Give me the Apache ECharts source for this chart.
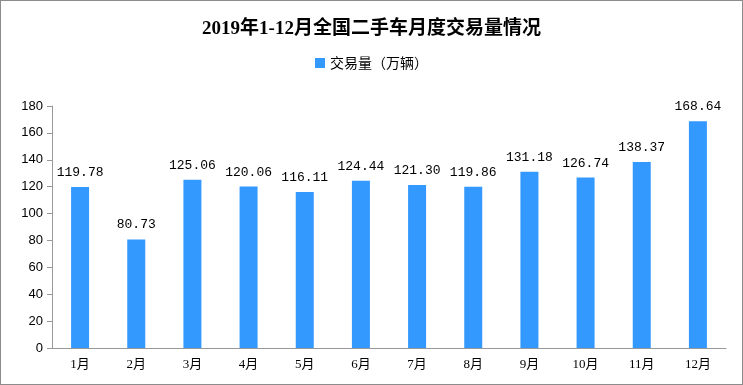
<!DOCTYPE html>
<html><head><meta charset="utf-8">
<script src="https://cdn.jsdelivr.net/npm/echarts@6/dist/echarts.min.js"></script>
<style>html,body{margin:0;padding:0;background:#fff}#c{width:741px;height:383px;border:1px solid #8c8c8c}</style>
</head><body><div id="c"></div>
<script>
const categories = ['1月','2月','3月','4月','5月','6月','7月','8月','9月','10月','11月','12月'];
const values = [119.78,80.73,125.06,120.06,116.11,124.44,121.30,119.86,131.18,126.74,138.37,168.64];
const seriesName = '交易量（万辆）';
const titleText = '2019年1-12月全国二手车月度交易量情况';
const chart = echarts.init(document.getElementById('c'), null, {renderer:'canvas'});
chart.setOption({
  animation:false,
  title:{text:titleText,left:'center',top:14,textStyle:{fontFamily:'"Liberation Serif","Noto Sans CJK SC",serif',fontSize:19,fontWeight:'bold',color:'#000'}},
  legend:{top:50,left:'center',itemWidth:10,itemHeight:10,itemGap:5,icon:'rect',textStyle:{fontFamily:'"Noto Sans CJK SC",sans-serif',fontSize:14,color:'#000'},data:[seriesName]},
  grid:{left:51,right:16,top:105,bottom:36,containLabel:false},
  xAxis:{type:'category',data:categories,axisLine:{lineStyle:{color:'#999'}},axisTick:{show:false},
    axisLabel:{color:'#000',fontSize:13,margin:10,fontFamily:'"Liberation Serif","Noto Sans CJK SC",serif'}},
  yAxis:{type:'value',min:0,max:180,interval:20,splitLine:{show:false},
    axisLine:{show:true,lineStyle:{color:'#999'}},axisTick:{show:true,length:5,lineStyle:{color:'#999'}},
    axisLabel:{color:'#000',fontSize:13,margin:9,fontFamily:'"Liberation Sans",Arial,sans-serif'}},
  series:[{name:seriesName,type:'bar',data:values,barWidth:18,itemStyle:{color:'#3399FF'},
    label:{show:true,position:'top',distance:8,color:'#000',fontSize:13,fontFamily:'"Liberation Mono","DejaVu Sans Mono",monospace',formatter:p=>p.value.toFixed(2)}}]
});
</script></body></html>
